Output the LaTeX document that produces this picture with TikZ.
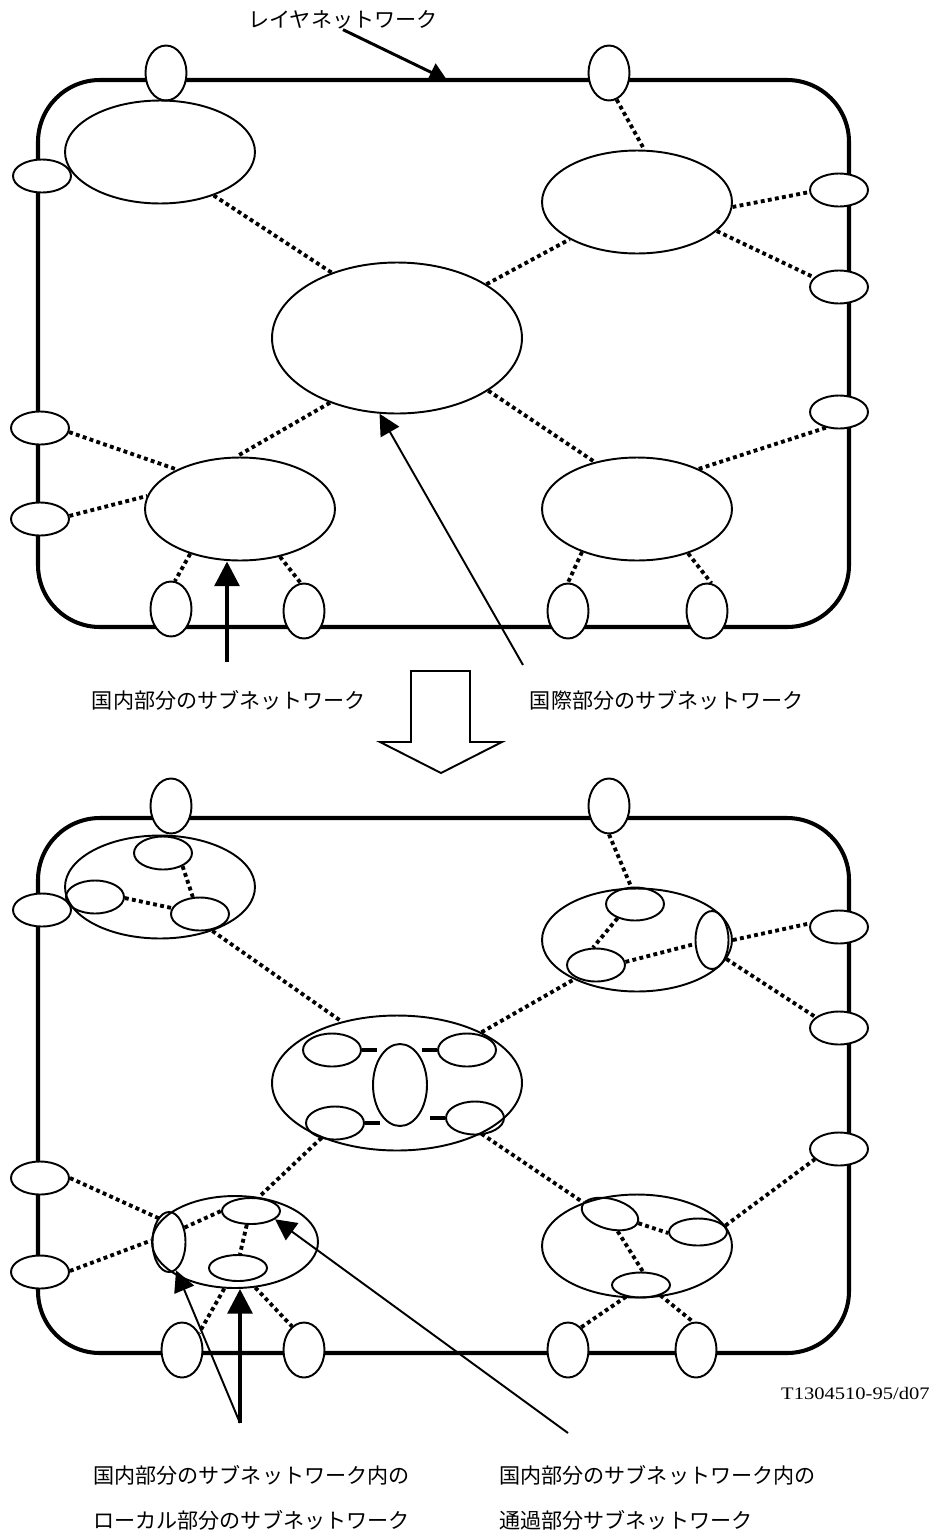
\documentclass[tikz,border=0pt]{standalone}
\usepackage{fontspec}
\usepackage{graphicx}
\newfontfamily\jp{Noto Sans CJK JP}
\newfontfamily\tnr{Liberation Serif}
\usetikzlibrary{shapes.geometric,arrows.meta}

\begin{document}
\begin{tikzpicture}[x=0.02cm,y=-0.02cm,
    marco/.style={line width=2.3pt,rounded corners=1.24cm},
    puerto/.style={ellipse,draw,fill=white,line width=1.1pt,inner sep=0pt},
    vpuerto/.style={puerto,minimum width=0.82cm,minimum height=1.1cm},
    hpuerto/.style={puerto,minimum width=1.16cm,minimum height=0.66cm},
    subred/.style={ellipse,draw,line width=1.1pt,inner sep=0pt,minimum width=3.8cm,minimum height=2.06cm},
    hint/.style={ellipse,draw,line width=1.1pt,inner sep=0pt,minimum width=1.16cm,minimum height=0.66cm},
    vint/.style={ellipse,draw,line width=1.1pt,inner sep=0pt,minimum width=0.66cm,minimum height=1.16cm},
    enlace/.style={line width=2.2pt,dash pattern=on 2.2pt off 1.9pt},
    tramo/.style={line width=2.3pt},
    flechafina/.style={line width=1.1pt,-{Triangle[length=12pt,width=12pt]}},
    flechagruesa/.style={line width=2.3pt,-{Triangle[length=14pt,width=14pt]}},
    etiqueta/.style={font=\jp\fontsize{12pt}{14pt}\selectfont,inner sep=0pt}]

    \useasboundingbox (0,0) rectangle (933,1535);

    % Red de capa (arriba)
    \draw[marco] (38,80) rectangle (849,627);

    % Puertos
    \node[vpuerto] (pA) at (166,73) {};
    \node[vpuerto] (pB) at (609,73) {};
    \node[hpuerto] (lp1) at (42,176) {};
    \node[hpuerto] (lp2) at (40,428) {};
    \node[hpuerto] (lp3) at (40,519) {};
    \node[hpuerto] (rp1) at (839,190) {};
    \node[hpuerto] (rp2) at (839,287) {};
    \node[hpuerto] (rp3) at (839,412) {};
    \node[vpuerto] (bp1) at (171,609) {};
    \node[vpuerto] (bp2) at (304,611) {};
    \node[vpuerto] (bp3) at (568,611) {};
    \node[vpuerto] (bp4) at (707,611) {};

    % Subredes
    \node[subred] (snTL) at (160,152) {};
    \node[subred] (snTR) at (637,202) {};
    \node[subred,minimum width=5cm,minimum height=3.02cm] (core) at (397,338) {};
    \node[subred] (snBL) at (240,509) {};
    \node[subred] (snBR) at (637,509) {};

    % Enlaces
    \draw[enlace] (snTL.-39) -- (core.135);
    \draw[enlace] (pB.-74) -- (snTR.82);
    \draw[enlace] (snTR.-3) -- (rp1.184);
    \draw[enlace] (snTR.-20) -- (rp2.159);
    \draw[enlace] (core.31) -- (snTR.-151);
    \draw[enlace] (core.-136) -- (snBL.94);
    \draw[enlace] (core.-30) -- (snBR.132);
    \draw[enlace] (snBR.33) -- (rp3.-130);
    \draw[enlace] (lp2.-8) -- (snBL.148);
    \draw[enlace] (lp3.6) -- (snBL.172);
    \draw[enlace] (snBL.-138) -- (bp1.82);
    \draw[enlace] (snBL.-50) -- (bp2.97);
    \draw[enlace] (snBR.-142) -- (bp3.90);
    \draw[enlace] (snBR.-41) -- (bp4.81);

    % Etiquetas y flechas
    \node[etiqueta] (capa) at (343,20) {レイヤネットワーク};
    \coordinate (capaPunta) at (447,80);
    \draw[line width=1.7pt,-{Triangle[length=10pt,width=11pt]}] (capa.south) -- (capaPunta);

    \node[etiqueta] (domLbl) at (229,700) {国内部分のサブネットワーク};
    \node[etiqueta] (intLbl) at (667,700) {国際部分のサブネットワーク};
    \coordinate (domPie) at (227,662);
    \coordinate (intPie) at (523,665);
    \draw[flechagruesa] (domPie) -- (domPie |- snBL.south);
    \draw[flechafina] (intPie) -- (core.-103);

    % Flecha hueca
    \draw[line width=1.1pt] (411,671) -- (470,671) -- (470,742) -- (502,742)
        -- (441,773) -- (380,742) -- (411,742) -- cycle;

    % Red de capa (abajo)
    \draw[marco] (38,818) rectangle (849,1353);

    \node[vpuerto] (pC) at (171,806) {};
    \node[vpuerto] (pD) at (609,806) {};
    \node[hpuerto] (lp4) at (42,910) {};
    \node[hpuerto] (lp5) at (40,1178) {};
    \node[hpuerto] (lp6) at (40,1272) {};
    \node[hpuerto] (rp4) at (839,927) {};
    \node[hpuerto] (rp5) at (839,1028) {};
    \node[hpuerto] (rp6) at (839,1149) {};
    \node[vpuerto] (bp5) at (182,1350) {};
    \node[vpuerto] (bp6) at (304,1350) {};
    \node[vpuerto] (bp7) at (568,1350) {};
    \node[vpuerto] (bp8) at (696,1350) {};

    % Subredes con sus partes
    \node[subred] (snTL2) at (160,887) {};
    \node[hint] (i1) at (163,853) {};
    \node[hint] (i2) at (95,897) {};
    \node[hint] (i3) at (200,914) {};

    \node[subred] (snTR2) at (637,940) {};
    \node[hint] (i4) at (635,904) {};
    \node[hint] (i5) at (596,965) {};
    \node[vint] (i6) at (712,940) {};

    \node[subred,minimum width=5cm,minimum height=2.7cm] (core2) at (397,1083) {};
    \node[hint] (c1) at (332,1050) {};
    \node[vint,minimum width=1.08cm,minimum height=1.64cm] (c2) at (400,1085) {};
    \node[hint] (c3) at (467,1050) {};
    \node[hint] (c4) at (335,1123) {};
    \node[hint] (c5) at (475,1118) {};

    \node[subred,minimum width=3.32cm,minimum height=1.84cm] (snBL2) at (235,1242) {};
    \node[hint,minimum height=0.52cm] (d1) at (251,1211) {};
    \node[hint,minimum height=0.52cm] (d2) at (238,1268) {};
    \node[vint,minimum height=1.2cm] (d3) at (169,1242) {};

    \node[subred] (snBR2) at (637,1246) {};
    \node[hint,minimum height=0.6cm,rotate=-15] (e1) at (610,1214) {};
    \node[hint,minimum height=0.54cm] (e2) at (698,1232) {};
    \node[hint,minimum height=0.5cm] (e3) at (641,1285) {};

    % Tramos cortos del nucleo
    \draw[tramo] (c1.east) -- ++(15,0);
    \draw[tramo] (c3.west) -- ++(-15,0);
    \draw[tramo] (c4.east) -- ++(15,0);
    \draw[tramo] (c5.west) -- ++(-15,0);

    % Enlaces
    \draw[enlace] (snTL2.-40) -- (core2.132);
    \draw[enlace] (i1.-34) -- (i3.113);
    \draw[enlace] (i2.-2) -- (i3.168);
    \draw[enlace] (pD.-90) -- (snTR2.96);
    \draw[enlace] (i4.-141) -- (i5.100);
    \draw[enlace] (i5.6) -- (i6.193);
    \draw[enlace] (snTR2.0) -- (rp4.173);
    \draw[enlace] (snTR2.-12) -- (rp5.155);
    \draw[enlace] (core2.31) -- (snTR2.-148);
    \draw[enlace] (core2.-144) -- (snBL2.62);
    \draw[enlace] (core2.-31) -- (snBR2.141);
    \draw[enlace] (d3.43) -- (d1.180);
    \draw[enlace] (d1.-107) -- (d2.82);
    \draw[enlace] (lp5.0) -- (snBL2.163);
    \draw[enlace] (lp6.2) -- (snBL2.179);
    \draw[enlace] (snBL2.-103) -- (bp5.45);
    \draw[enlace] (snBL2.-66) -- (bp6.117);
    \draw[enlace] (e1.-3) -- (e2.182);
    \draw[enlace] (e1.-51) -- (e3.82);
    \draw[enlace] (snBR2.13) -- (rp6.203);
    \draw[enlace] (e3.-142) -- (bp7.60);
    \draw[enlace] (e3.-28) -- (bp8.96);

    % Flechas de abajo
    \coordinate (locPie) at (240,1423);
    \coordinate (trPie) at (568,1433);
    \draw[flechagruesa] (locPie) -- (locPie |- snBL2.south);
    \draw[flechafina] (locPie) -- (d3.-76);
    \draw[flechafina] (trPie) -- (d1.-19);

    \node[anchor=east,inner sep=0pt,font=\tnr\fontsize{10pt}{12pt}\selectfont] (ref) at (930,1393) {\scalebox{1.17}[1]{T1304510-95/d07}};

    \node[etiqueta,anchor=west] (locLbl1) at (93,1475) {国内部分のサブネットワーク内の};
    \node[etiqueta,anchor=west] (locLbl2) at (93,1520) {ローカル部分のサブネットワーク};
    \node[etiqueta,anchor=west] (trLbl1) at (499,1475) {国内部分のサブネットワーク内の};
    \node[etiqueta,anchor=west] (trLbl2) at (499,1520) {通過部分サブネットワーク};
\end{tikzpicture}
\end{document}
